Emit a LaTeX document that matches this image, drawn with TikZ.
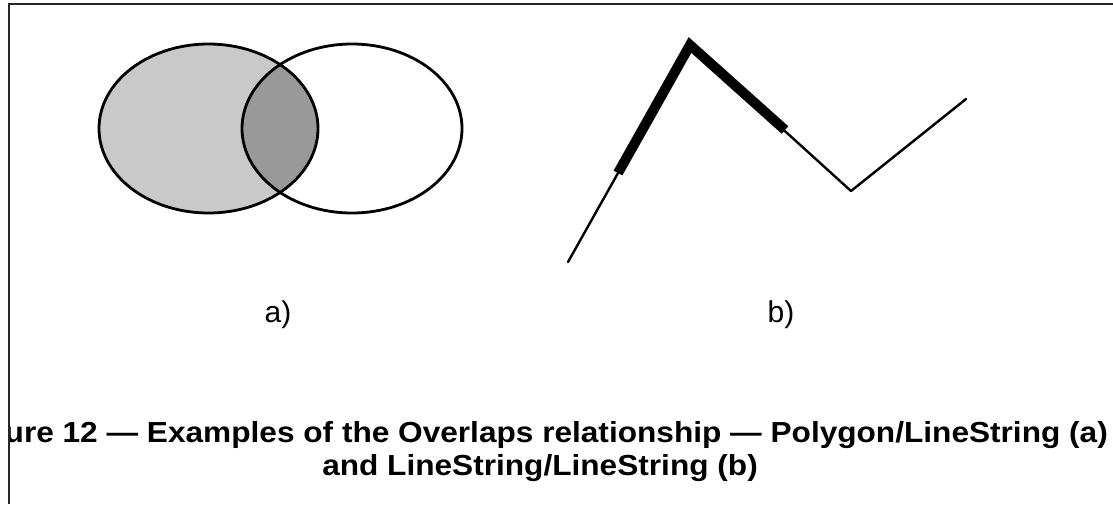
\documentclass[tikz,border=0pt]{standalone}
\usepackage{fontspec}
\setmainfont{Liberation Sans}
\usetikzlibrary{positioning}

\begin{document}
\begin{tikzpicture}[
  x=1pt, y=-1pt,
  font=\fontsize{30}{34}\selectfont,
  frameline/.style={line width=2.2pt, black!85},
  region/.style={draw=black, line width=2.8pt},
  thinpart/.style={line width=2.4pt, line cap=round, line join=round},
  thickpart/.style={line width=10pt, line join=miter},
  tag/.style={inner sep=0pt},
  caption/.style={font=\fontsize{29}{34}\selectfont\bfseries, inner sep=0pt,
                  xscale=1.09, transform shape},
]
\useasboundingbox[fill=white] (0,0) rectangle (1113,504);

%% -- Frame (open to the right and bottom) -----------------------------------
\coordinate (ftop) at (1113,4);
\coordinate (fcorner) at (9,4);
\coordinate (fbot) at (9,504);
\draw[frameline] (ftop) -- (fcorner) -- (fbot);

%% -- a) two overlapping polygons --------------------------------------------
\fill[black!21] (208.5,128.5) ellipse [x radius=109.5, y radius=84.5];
\begin{scope}
  \clip (208.5,128.5) ellipse [x radius=109.5, y radius=84.5];
  \fill[black!40] (352,128.5) ellipse [x radius=110, y radius=84.5];
\end{scope}
\draw[region] (208.5,128.5) ellipse [x radius=109.5, y radius=84.5];
\draw[region] (352,128.5) ellipse [x radius=110, y radius=84.5];

%% -- b) two overlapping linestrings -----------------------------------------
\coordinate (start)  at (568,262);
\coordinate (ovin)   at (618,173);
\coordinate (peak)   at (690,45);
\coordinate (ovout)  at (785,130);
\coordinate (valley) at (851,191);
\coordinate (finish) at (966,99);
\draw[thinpart] (start) -- (peak) -- (valley) -- (finish);
\draw[thickpart] (ovin) -- (peak) -- (ovout);

%% -- Sub-labels --------------------------------------------------------------
\node[tag] (laba) at (278,315) {a)};
\node[tag] (labb) at (781,315) {b)};

%% -- Caption (first line cut off by the frame) ------------------------------
\begin{scope}
  \clip (10,0) rectangle (1113,504);
  \node[caption, anchor=base east] (cap1) at (1108,442)
    {Figure 12 — Examples of the Overlaps relationship — Polygon/LineString (a)};
\end{scope}
\node[caption, anchor=base] (cap2) at (540,475) {and LineString/LineString (b)};

\end{tikzpicture}
\end{document}
